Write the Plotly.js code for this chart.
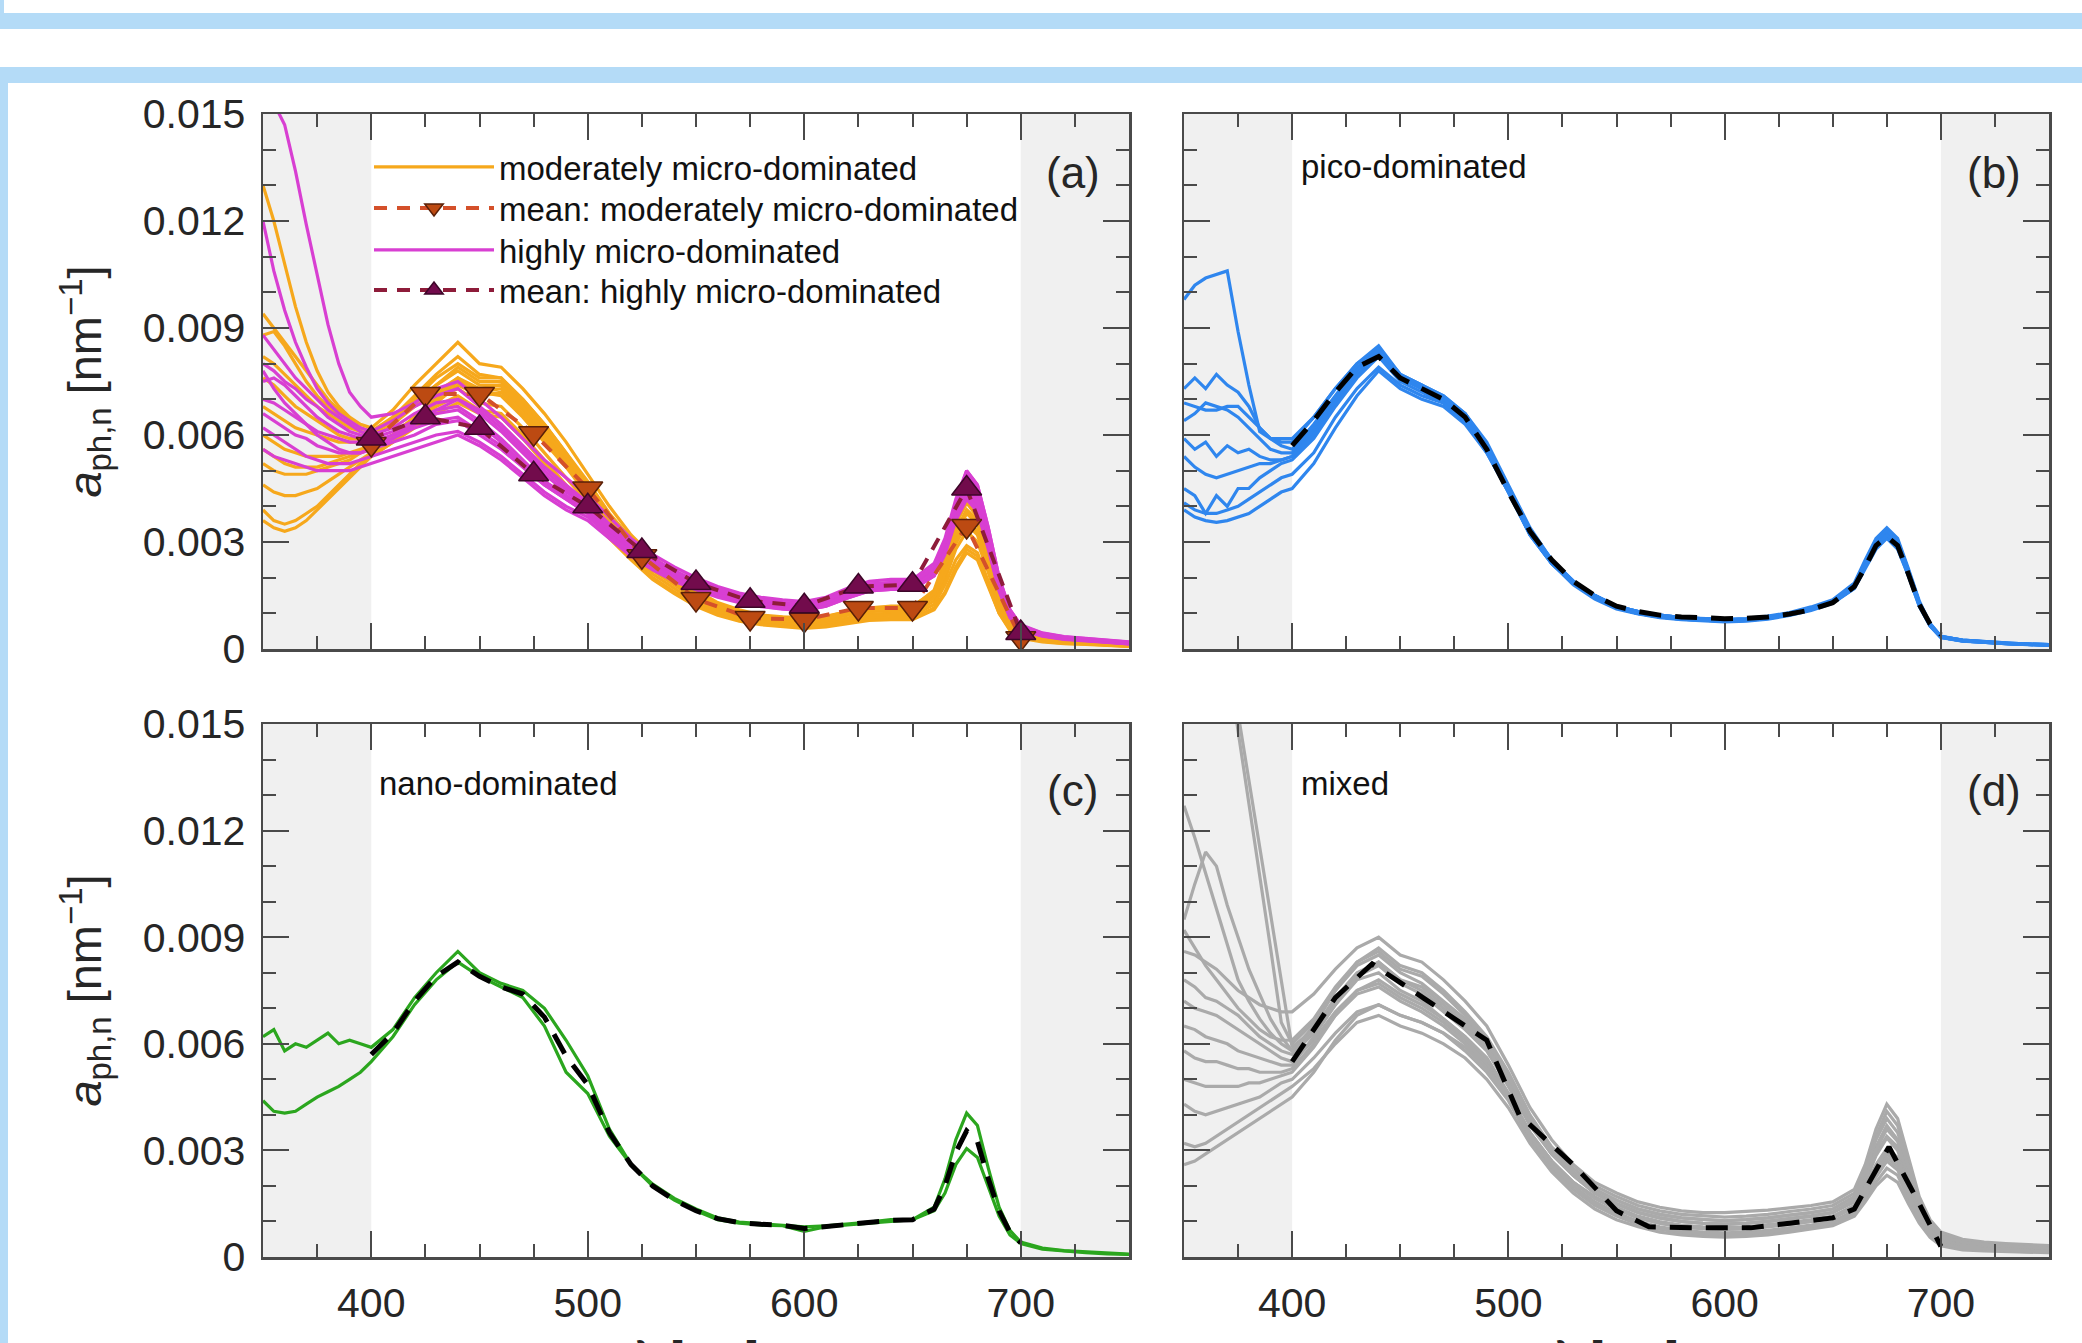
<!DOCTYPE html>
<html>
<head>
<meta charset="utf-8">
<title>Normalized phytoplankton absorption spectra</title>
<script src="https://cdn.plot.ly/plotly-3.0.1.min.js"></script>
<style>
html,body{margin:0;padding:0;width:2082px;height:1343px;overflow:hidden;background:#ffffff;}
.band{position:absolute;background:#b4dbf7;}
#chart{position:absolute;left:0;top:0;width:2082px;height:1343px;}
</style>
</head>
<body>
<div class="band" style="left:0;top:0;width:4px;height:13px;"></div>
<div class="band" style="left:0;top:13px;width:2082px;height:16px;"></div>
<div class="band" style="left:0;top:67px;width:2082px;height:16px;"></div>
<div class="band" style="left:0;top:67px;width:8px;height:1276px;"></div>
<div id="chart"></div>
<script>
// ---------------- DATA (values in units of 1e-3 nm^-1) ----------------
const UNIT = 1e-3;
const wavelength = [350,355,360,365,370,375,380,385,390,395,400,410,420,430,440,450,460,470,480,490,500,510,520,530,540,550,560,570,580,590,600,610,620,630,640,650,660,665,670,675,680,685,690,695,700,710,720,730,740,750];
const meanWavelength = [400,410,420,430,440,450,460,470,480,490,500,510,520,530,540,550,560,570,580,590,600,610,620,630,640,650,660,665,670,675,680,685,690,695,700];
const meanWavelengthA = [400,425,450,475,500,525,550,575,600,625,650,675,700];
const meanWavelengthD = [400,420,437,460,490,505,530,550,565,590,612,630,650,660,676,690,700];

// (a) moderately micro-dominated
const mod01 = [13.0,12.0,10.8,9.6,8.6,7.8,7.2,6.8,6.5,6.3,6.2, 6.7,7.4,8.0,8.6,8.0,7.9,7.3,6.6,5.8,4.9,4.0,3.2,2.6,2.1,1.65,1.3,1.1,0.95,0.9,0.88,0.92,1.05,1.15,1.2,1.2, 1.6,2.3,3.3,3.9,3.6,2.6,1.45,0.8,0.48, 0.32,0.25,0.22,0.17,0.12];
const mod02 = [9.4,9.0,8.6,8.2,7.8,7.4,7.0,6.7,6.4,6.2,6.1, 6.5,7.1,7.7,8.2,7.7,7.6,7.0,6.3,5.5,4.7,3.8,3.1,2.5,2.0,1.55,1.25,1.02,0.9,0.85,0.82,0.86,1.0,1.1,1.12,1.12, 1.5,2.2,3.1,3.6,3.3,2.4,1.35,0.72,0.44, 0.3,0.23,0.2,0.16,0.11];
const mod03 = [8.8,8.9,8.5,8.0,7.5,7.1,6.8,6.5,6.3,6.1,6.0, 6.4,6.9,7.4,7.8,7.4,7.4,6.8,6.1,5.4,4.6,3.7,3.0,2.4,1.9,1.5,1.2,1.0,0.88,0.82,0.8,0.84,0.98,1.08,1.1,1.1, 1.5,2.2,3.2,3.8,3.5,2.5,1.4,0.75,0.45, 0.3,0.22,0.2,0.15,0.11];
const mod04 = [7.6,7.4,7.1,6.8,6.6,6.4,6.2,6.0,5.9,5.9,5.9, 6.3,6.8,7.2,7.6,7.2,7.1,6.5,5.8,5.1,4.3,3.5,2.8,2.2,1.8,1.4,1.1,0.9,0.8,0.75,0.72,0.76,0.88,0.98,1.0,1.0, 1.35,1.95,2.8,3.3,3.0,2.15,1.2,0.65,0.38, 0.26,0.2,0.18,0.13,0.09];
const mod05 = [6.8,6.6,6.4,6.2,6.1,6.0,5.9,5.8,5.8,5.8,5.9, 6.3,6.9,7.4,7.9,7.5,7.5,6.9,6.2,5.4,4.6,3.7,3.0,2.4,1.95,1.5,1.2,1.0,0.9,0.85,0.82,0.86,1.0,1.12,1.15,1.15, 1.6,2.4,3.5,4.1,3.7,2.7,1.5,0.8,0.48, 0.32,0.25,0.22,0.17,0.12];
const mod06 = [6.0,5.8,5.6,5.5,5.4,5.4,5.4,5.4,5.5,5.6,5.7, 6.0,6.5,7.0,7.3,6.9,6.8,6.2,5.5,4.8,4.1,3.3,2.7,2.1,1.7,1.3,1.05,0.85,0.75,0.7,0.66,0.7,0.82,0.92,0.95,0.95, 1.25,1.8,2.5,2.9,2.7,1.9,1.1,0.6,0.35, 0.24,0.18,0.16,0.12,0.08];
const mod07 = [5.2,5.0,4.9,4.9,4.9,5.0,5.1,5.2,5.3,5.5,5.6, 6.0,6.5,7.0,7.5,7.2,7.3,6.7,6.0,5.3,4.5,3.7,3.0,2.4,1.95,1.55,1.25,1.05,0.92,0.88,0.86,0.9,1.05,1.16,1.18,1.18, 1.65,2.5,3.6,4.2,3.8,2.8,1.6,0.85,0.5, 0.34,0.26,0.23,0.18,0.12];
const mod08 = [4.6,4.4,4.3,4.3,4.4,4.5,4.7,4.9,5.1,5.3,5.5, 5.9,6.4,6.8,7.1,6.7,6.6,6.0,5.3,4.6,3.9,3.2,2.6,2.0,1.6,1.25,1.0,0.8,0.7,0.65,0.6,0.65,0.75,0.85,0.88,0.88, 1.15,1.6,2.3,2.8,2.6,1.8,1.0,0.55,0.32, 0.22,0.16,0.14,0.1,0.07];
const mod09 = [3.9,3.6,3.5,3.6,3.8,4.0,4.3,4.6,4.9,5.2,5.4, 5.8,6.3,6.9,7.4,7.1,7.2,6.6,5.9,5.2,4.4,3.6,2.9,2.3,1.85,1.45,1.15,0.95,0.85,0.8,0.78,0.82,0.96,1.06,1.08,1.08, 1.45,2.1,3.0,3.6,3.3,2.4,1.35,0.72,0.42, 0.3,0.22,0.19,0.14,0.1];
const mod10 = [3.6,3.4,3.3,3.4,3.6,3.9,4.2,4.5,4.8,5.1,5.4, 5.8,6.2,6.6,6.9,6.6,6.5,5.9,5.2,4.5,3.8,3.1,2.5,1.95,1.55,1.2,0.95,0.78,0.68,0.62,0.58,0.62,0.72,0.8,0.82,0.82, 1.1,1.55,2.2,2.7,2.5,1.75,1.0,0.52,0.3, 0.2,0.15,0.13,0.1,0.07];
const mod11 = [8.2,8.0,7.7,7.4,7.1,6.8,6.6,6.4,6.2,6.1,6.0, 6.5,7.0,7.6,8.0,7.6,7.6,7.0,6.3,5.5,4.6,3.7,3.0,2.4,1.9,1.5,1.2,1.0,0.86,0.8,0.78,0.82,0.95,1.05,1.08,1.08, 1.45,2.1,2.95,3.5,3.2,2.3,1.3,0.7,0.42, 0.28,0.21,0.19,0.14,0.1];
const mod12 = [5.6,5.4,5.2,5.1,5.1,5.1,5.2,5.3,5.4,5.5,5.7, 6.0,6.5,7.1,7.6,7.3,7.4,6.8,6.1,5.4,4.6,3.7,3.0,2.4,1.9,1.5,1.2,1.0,0.9,0.85,0.82,0.86,1.0,1.1,1.12,1.12, 1.55,2.3,3.3,3.9,3.6,2.6,1.45,0.78,0.46, 0.3,0.23,0.2,0.15,0.1];

// (a) highly micro-dominated
const high01 = [15.8,15.3,14.7,13.4,11.9,10.5,9.1,8.0,7.2,6.8,6.5, 6.6,6.9,7.3,7.5,7.0,6.5,5.9,5.3,4.8,4.3,3.7,3.1,2.65,2.3,2.0,1.75,1.57,1.45,1.38,1.33,1.45,1.7,1.9,1.95,1.95, 2.4,3.1,4.2,5.0,4.6,3.4,2.0,1.1,0.68, 0.45,0.35,0.3,0.25,0.2];
const high02 = [12.0,10.6,9.5,8.6,7.9,7.3,6.9,6.6,6.4,6.2,6.1, 6.4,6.8,7.1,7.3,6.8,6.3,5.7,5.1,4.6,4.1,3.5,3.0,2.55,2.2,1.9,1.68,1.5,1.38,1.3,1.25,1.38,1.62,1.82,1.86,1.86, 2.3,3.0,4.1,4.9,4.5,3.3,1.9,1.05,0.64, 0.42,0.33,0.28,0.23,0.18];
const high03 = [8.8,8.4,8.0,7.6,7.3,7.0,6.7,6.5,6.3,6.1,6.0, 6.2,6.6,6.9,7.0,6.6,6.1,5.5,4.9,4.4,4.0,3.4,2.9,2.5,2.15,1.87,1.63,1.45,1.33,1.25,1.2,1.33,1.57,1.77,1.8,1.8, 2.2,2.9,3.9,4.6,4.2,3.1,1.8,1.0,0.62, 0.41,0.31,0.27,0.22,0.17];
const high04 = [8.0,7.8,7.5,7.3,7.0,6.8,6.5,6.3,6.1,6.0,5.9, 6.1,6.4,6.7,6.8,6.4,5.9,5.3,4.7,4.3,3.9,3.3,2.8,2.4,2.05,1.8,1.57,1.4,1.28,1.2,1.16,1.28,1.52,1.72,1.76,1.76, 2.15,2.8,3.8,4.4,4.0,2.95,1.72,0.95,0.58, 0.39,0.3,0.25,0.2,0.16];
const high05 = [7.5,7.6,7.4,7.1,6.8,6.5,6.3,6.1,6.0,5.9,5.8, 6.0,6.3,6.6,6.7,6.3,5.8,5.2,4.7,4.3,3.9,3.3,2.85,2.45,2.1,1.84,1.6,1.43,1.3,1.23,1.19,1.31,1.55,1.75,1.8,1.8, 2.2,2.9,4.0,4.7,4.3,3.15,1.85,1.0,0.62, 0.41,0.31,0.26,0.21,0.17];
const high06 = [7.0,6.9,6.7,6.5,6.3,6.1,6.0,5.9,5.8,5.8,5.8, 5.9,6.2,6.4,6.5,6.1,5.7,5.1,4.6,4.2,3.8,3.2,2.75,2.35,2.0,1.75,1.52,1.36,1.24,1.16,1.12,1.24,1.48,1.68,1.72,1.72, 2.1,2.75,3.7,4.3,3.9,2.85,1.65,0.9,0.55, 0.37,0.28,0.24,0.19,0.15];
const high07 = [6.6,6.4,6.2,6.0,5.9,5.7,5.6,5.5,5.5,5.5,5.6, 5.8,6.0,6.3,6.4,6.0,5.6,5.1,4.6,4.2,3.8,3.2,2.7,2.3,1.95,1.7,1.48,1.32,1.2,1.13,1.09,1.2,1.43,1.63,1.67,1.67, 2.05,2.65,3.6,4.2,3.85,2.8,1.62,0.88,0.53, 0.36,0.27,0.23,0.18,0.14];
const high08 = [6.2,6.0,5.8,5.6,5.4,5.3,5.2,5.2,5.2,5.3,5.4, 5.6,5.8,6.0,6.1,5.8,5.4,4.9,4.4,4.0,3.7,3.2,2.7,2.3,1.98,1.74,1.52,1.36,1.25,1.18,1.14,1.26,1.5,1.7,1.74,1.74, 2.15,2.8,3.8,4.5,4.1,3.0,1.75,0.95,0.57, 0.39,0.29,0.25,0.2,0.15];
const high09 = [5.6,5.4,5.3,5.2,5.1,5.0,5.0,5.0,5.0,5.1,5.2, 5.4,5.6,5.8,6.0,5.7,5.3,4.8,4.3,3.9,3.6,3.1,2.6,2.22,1.9,1.66,1.45,1.3,1.19,1.12,1.08,1.2,1.43,1.63,1.67,1.67, 2.05,2.7,3.65,4.3,3.95,2.9,1.68,0.9,0.54, 0.37,0.28,0.24,0.19,0.14];
const high10 = [7.8,7.3,6.9,6.6,6.3,6.0,5.8,5.6,5.5,5.5,5.6, 5.9,6.3,6.7,7.0,6.7,6.2,5.6,5.0,4.5,4.0,3.4,2.9,2.5,2.15,1.9,1.67,1.5,1.38,1.3,1.26,1.38,1.62,1.82,1.86,1.86, 2.3,3.0,4.1,5.0,4.6,3.4,2.0,1.1,0.66, 0.44,0.34,0.29,0.24,0.19];

const meanModerate = [5.75,7.15,7.15,6.05,4.5,2.6,1.4,0.87,0.82,1.15,1.15,3.45,0.3];
const meanHigh     = [5.9,6.5,6.2,4.9,4.0,2.75,1.85,1.35,1.2,1.75,1.8,4.5,0.45];

// (b) pico-dominated
const pico01 = [9.8,10.2,10.4,10.5,10.6,8.9,7.4,6.1,5.9,5.9,5.9, 6.5,7.3,8.0,8.5,7.7,7.4,7.1,6.6,5.8,4.6,3.4,2.5,1.9,1.5,1.2,1.05,0.95,0.88,0.84,0.82,0.84,0.9,1.0,1.15,1.35, 1.8,2.4,3.0,3.3,3.0,2.2,1.3,0.7,0.35, 0.25,0.2,0.17,0.14,0.12];
const pico02 = [7.3,7.6,7.3,7.7,7.4,7.2,6.8,6.2,5.9,5.8,5.8, 6.5,7.3,8.0,8.4,7.7,7.4,7.0,6.6,5.7,4.5,3.3,2.5,1.9,1.5,1.2,1.05,0.95,0.88,0.85,0.83,0.85,0.92,1.02,1.18,1.38, 1.85,2.5,3.1,3.4,3.1,2.25,1.35,0.72,0.36, 0.24,0.19,0.16,0.14,0.12];
const pico03 = [6.9,6.8,6.7,6.7,6.8,6.8,6.5,6.2,5.9,5.7,5.6, 6.3,7.1,7.9,8.3,7.6,7.3,7.0,6.5,5.6,4.4,3.3,2.4,1.85,1.45,1.15,1.0,0.9,0.85,0.82,0.8,0.82,0.88,0.98,1.12,1.32, 1.75,2.35,2.95,3.25,2.95,2.15,1.25,0.68,0.34, 0.24,0.19,0.16,0.13,0.11];
const pico04 = [6.4,6.6,6.9,6.8,6.7,6.5,6.2,5.9,5.6,5.5,5.5, 6.2,7.0,7.8,8.3,7.6,7.3,7.0,6.5,5.6,4.4,3.2,2.4,1.85,1.45,1.15,1.0,0.9,0.84,0.8,0.78,0.8,0.86,0.96,1.1,1.3, 1.72,2.3,2.9,3.2,2.9,2.1,1.25,0.66,0.33, 0.23,0.18,0.15,0.13,0.11];
const pico05 = [5.9,5.6,5.8,5.4,5.7,5.5,5.6,5.4,5.3,5.3,5.4, 6.1,7.0,7.8,8.4,7.7,7.4,7.1,6.6,5.7,4.5,3.3,2.5,1.9,1.5,1.2,1.05,0.95,0.88,0.84,0.82,0.84,0.9,1.0,1.15,1.35, 1.8,2.45,3.05,3.35,3.05,2.2,1.3,0.7,0.35, 0.25,0.2,0.16,0.14,0.12];
const pico06 = [5.4,5.1,4.9,4.8,4.9,5.0,5.1,5.2,5.2,5.3,5.4, 6.0,6.9,7.7,8.2,7.5,7.2,6.9,6.4,5.5,4.4,3.2,2.4,1.85,1.45,1.15,1.0,0.9,0.84,0.8,0.78,0.8,0.86,0.96,1.1,1.3, 1.7,2.3,2.85,3.15,2.85,2.05,1.2,0.65,0.33, 0.23,0.18,0.15,0.13,0.11];
const pico07 = [4.5,4.3,3.8,4.3,4.0,4.5,4.5,4.8,5.0,5.2,5.3, 5.9,6.8,7.6,8.2,7.6,7.3,7.0,6.5,5.6,4.5,3.3,2.5,1.9,1.5,1.2,1.05,0.95,0.88,0.84,0.82,0.84,0.9,1.0,1.15,1.35, 1.8,2.4,3.0,3.3,3.0,2.2,1.3,0.7,0.35, 0.25,0.2,0.17,0.14,0.12];
const pico08 = [3.9,3.7,3.6,3.55,3.6,3.7,3.8,4.0,4.2,4.4,4.5, 5.2,6.2,7.1,7.8,7.3,7.0,6.8,6.3,5.5,4.4,3.2,2.4,1.8,1.4,1.12,0.98,0.88,0.82,0.78,0.76,0.78,0.84,0.94,1.08,1.28, 1.7,2.25,2.8,3.1,2.8,2.05,1.2,0.64,0.32, 0.22,0.18,0.15,0.12,0.1];
const pico09 = [4.1,3.9,3.8,3.8,3.9,4.0,4.2,4.4,4.6,4.8,4.9, 5.5,6.5,7.3,7.9,7.4,7.1,6.9,6.4,5.6,4.5,3.3,2.4,1.85,1.45,1.15,1.0,0.9,0.84,0.8,0.78,0.8,0.86,0.96,1.1,1.3, 1.72,2.3,2.9,3.2,2.9,2.1,1.25,0.66,0.33, 0.23,0.18,0.15,0.13,0.11];
const meanPico = [5.7,6.4,7.2,7.9,8.2,7.6,7.3,7.0,6.5,5.6,4.4,3.3,2.5,1.9,1.5,1.2,1.05,0.95,0.9,0.86,0.85,0.86,0.9,0.98,1.1,1.3, 1.75,2.3,2.9,3.15,2.9,2.1,1.25,0.7,0.4];

// (c) nano-dominated
const nano01 = [6.2,6.4,5.8,6.0,5.9,6.1,6.3,6.0,6.1,6.0,5.9, 6.4,7.3,8.0,8.6,8.0,7.7,7.5,7.0,6.1,5.1,3.6,2.6,2.05,1.65,1.35,1.1,0.98,0.93,0.9,0.85,0.88,0.92,0.98,1.05,1.05, 1.4,2.2,3.3,4.05,3.7,2.5,1.4,0.75,0.42, 0.25,0.18,0.14,0.1,0.08];
const nano02 = [4.4,4.1,4.05,4.1,4.3,4.5,4.65,4.8,5.0,5.2,5.5, 6.2,7.1,7.8,8.3,7.9,7.6,7.3,6.5,5.2,4.6,3.4,2.6,2.0,1.6,1.3,1.05,0.95,0.9,0.88,0.72,0.85,0.9,0.95,1.02,1.05, 1.3,1.8,2.6,3.05,2.8,1.95,1.15,0.62,0.38, 0.22,0.16,0.12,0.09,0.07];
const meanNano = [5.7,6.3,7.2,7.9,8.3,7.9,7.6,7.4,6.75,5.65,4.85,3.5,2.6,2.0,1.6,1.3,1.08,0.97,0.92,0.89,0.8,0.86,0.91,0.96,1.03,1.05, 1.35,2.0,2.95,3.55,3.25,2.2,1.3,0.7,0.4];

// (d) mixed
const mixed01 = [28,26,23.5,20.5,17.0,14.8,12.8,10.7,8.7,6.6,6.0, 6.6,7.5,8.2,8.5,8.0,7.7,7.2,6.7,6.0,5.0,3.9,3.0,2.4,1.9,1.6,1.35,1.2,1.1,1.05,1.02,1.05,1.1,1.18,1.25,1.35, 1.7,2.3,3.1,3.7,3.3,2.4,1.5,0.9,0.55, 0.38,0.32,0.29,0.26,0.24];
const mixed02 = [30,28,25,22,19.0,15.3,13.4,11.5,9.6,7.7,5.9, 6.4,7.3,8.0,8.3,7.8,7.5,7.0,6.5,5.9,4.9,3.8,2.9,2.3,1.8,1.5,1.25,1.1,1.0,0.95,0.92,0.95,1.0,1.08,1.15,1.25, 1.6,2.15,2.9,3.4,3.1,2.2,1.4,0.85,0.5, 0.35,0.3,0.27,0.24,0.22];
const mixed03 = [12.7,11.8,10.8,9.8,8.8,7.8,7.2,6.7,6.3,6.0,5.8, 6.5,7.5,8.3,8.7,8.2,8.0,7.5,6.9,6.2,5.2,4.0,3.1,2.5,2.0,1.7,1.45,1.3,1.2,1.15,1.12,1.15,1.2,1.28,1.35,1.45, 1.8,2.5,3.4,4.1,3.7,2.7,1.6,1.0,0.62, 0.45,0.38,0.34,0.31,0.28];
const mixed04 = [9.5,10.5,11.4,11.0,9.9,9.0,8.1,7.4,6.7,6.2,5.8, 6.4,7.2,7.9,8.2,7.7,7.4,6.9,6.4,5.8,4.8,3.7,2.9,2.3,1.8,1.5,1.25,1.1,1.0,0.95,0.93,0.95,1.0,1.07,1.15,1.25, 1.55,2.1,2.85,3.35,3.0,2.2,1.35,0.82,0.5, 0.36,0.3,0.27,0.25,0.22];
const mixed05 = [8.6,8.5,8.3,8.1,7.8,7.5,7.3,7.1,7.0,6.9,6.9, 7.4,8.1,8.7,9.0,8.5,8.3,7.8,7.2,6.5,5.4,4.2,3.3,2.6,2.1,1.8,1.55,1.4,1.3,1.25,1.25,1.28,1.32,1.38,1.45,1.55, 1.9,2.6,3.6,4.3,3.9,2.8,1.7,1.05,0.7, 0.5,0.42,0.38,0.35,0.32];
const mixed06 = [7.8,7.6,7.3,7.2,7.0,6.8,6.5,6.2,6.0,5.8,5.7, 6.3,7.1,7.8,8.0,7.5,7.2,6.7,6.2,5.6,4.6,3.5,2.7,2.1,1.7,1.4,1.15,1.0,0.9,0.85,0.83,0.85,0.9,0.97,1.05,1.15, 1.45,1.95,2.6,3.05,2.8,2.0,1.25,0.75,0.45, 0.32,0.28,0.25,0.22,0.2];
const mixed07 = [7.2,7.0,6.9,6.8,6.6,6.4,6.2,6.0,5.8,5.6,5.5, 6.1,6.9,7.5,7.7,7.3,7.0,6.6,6.1,5.5,4.6,3.5,2.7,2.1,1.65,1.35,1.1,0.95,0.85,0.8,0.78,0.8,0.85,0.92,1.0,1.1, 1.4,1.85,2.45,2.9,2.65,1.9,1.2,0.7,0.42, 0.3,0.26,0.23,0.21,0.19];
const mixed08 = [6.5,6.4,6.2,6.1,6.0,5.8,5.7,5.6,5.5,5.4,5.4, 6.2,7.1,7.9,8.3,7.8,7.6,7.1,6.6,5.9,4.9,3.8,2.9,2.3,1.8,1.5,1.25,1.1,1.0,0.95,0.92,0.95,1.0,1.08,1.15,1.25, 1.6,2.2,3.0,3.6,3.25,2.35,1.45,0.88,0.52, 0.36,0.3,0.27,0.24,0.22];
const mixed09 = [5.8,5.6,5.5,5.5,5.4,5.3,5.3,5.2,5.2,5.2,5.3, 6.0,6.8,7.4,7.6,7.2,6.9,6.5,6.0,5.4,4.5,3.4,2.6,2.0,1.55,1.25,1.0,0.85,0.75,0.7,0.68,0.7,0.75,0.82,0.9,1.0, 1.3,1.75,2.35,2.8,2.55,1.85,1.15,0.68,0.4, 0.28,0.23,0.2,0.18,0.16];
const mixed10 = [5.0,4.9,4.8,4.8,4.8,4.8,4.9,4.9,5.0,5.1,5.2, 5.9,6.8,7.5,7.8,7.4,7.1,6.7,6.2,5.6,4.6,3.5,2.7,2.1,1.65,1.35,1.1,0.95,0.85,0.8,0.78,0.8,0.85,0.92,1.0,1.1, 1.4,1.9,2.55,3.0,2.75,2.0,1.25,0.75,0.45, 0.32,0.27,0.24,0.22,0.2];
const mixed11 = [4.3,4.1,4.0,4.1,4.2,4.3,4.4,4.5,4.7,4.9,5.0, 5.6,6.3,6.9,7.1,6.8,6.6,6.3,5.8,5.2,4.4,3.3,2.5,1.9,1.45,1.15,0.92,0.78,0.68,0.63,0.6,0.62,0.67,0.75,0.83,0.93, 1.2,1.6,2.1,2.5,2.3,1.65,1.0,0.6,0.36, 0.24,0.2,0.17,0.15,0.14];
const mixed12 = [3.2,3.1,3.2,3.4,3.6,3.8,4.0,4.2,4.4,4.6,4.8, 5.3,6.0,6.6,6.8,6.5,6.3,6.0,5.6,5.0,4.2,3.2,2.4,1.8,1.35,1.05,0.85,0.7,0.62,0.58,0.56,0.58,0.62,0.7,0.78,0.88, 1.15,1.55,2.0,2.3,2.1,1.5,0.95,0.55,0.32, 0.2,0.17,0.15,0.13,0.12];
const mixed13 = [2.6,2.7,2.9,3.1,3.3,3.5,3.7,3.9,4.1,4.3,4.5, 5.2,6.1,6.8,7.1,6.8,6.6,6.3,5.9,5.3,4.5,3.4,2.6,2.0,1.5,1.2,0.95,0.8,0.7,0.65,0.62,0.65,0.7,0.78,0.86,0.96, 1.25,1.7,2.25,2.7,2.45,1.75,1.1,0.65,0.38, 0.26,0.22,0.19,0.17,0.15];
const mixed14 = [9.2,8.7,8.2,7.8,7.4,7.0,6.7,6.4,6.2,6.1,6.1, 6.7,7.6,8.3,8.6,8.1,7.9,7.4,6.8,6.1,5.1,3.9,3.0,2.4,1.9,1.6,1.35,1.2,1.1,1.05,1.02,1.05,1.1,1.18,1.25,1.35, 1.7,2.4,3.3,3.9,3.5,2.55,1.55,0.95,0.58, 0.42,0.35,0.31,0.28,0.25];
const meanMixed = [5.5,7.3,8.25,7.3,6.1,4.0,2.6,1.3,0.85,0.82,0.82,0.95,1.1,1.35,3.1,1.5,0.3];

const moderatelyMicro = [mod01,mod02,mod03,mod04,mod05,mod06,mod07,mod08,mod09,mod10,mod11,mod12];
const highlyMicro = [high01,high02,high03,high04,high05,high06,high07,high08,high09,high10];
const picoDominated = [pico01,pico02,pico03,pico04,pico05,pico06,pico07,pico08,pico09];
const nanoDominated = [nano01,nano02];
const mixedGroup = [mixed01,mixed02,mixed03,mixed04,mixed05,mixed06,mixed07,mixed08,mixed09,mixed10,mixed11,mixed12,mixed13,mixed14];

const panelLabels = ['(a)','(b)','(c)','(d)'];
const groupLabels = ['pico-dominated','nano-dominated','mixed'];
const legendNames = ['moderately micro-dominated','mean: moderately micro-dominated','highly micro-dominated','mean: highly micro-dominated'];
const yTitle = '<i>a</i><sub>ph,n</sub> [nm<sup>\u22121</sup>]';
const xTitle = '\u03bb [nm]';

// ---------------- BUILD ----------------
const FONT = 'Liberation Sans, Arial, Helvetica, sans-serif';
const AX = '#4a4a4a';
const sc = a => a.map(v => v * UNIT);

const P = {
  a: {x: 'x',  y: 'y'},
  b: {x: 'x2', y: 'y2'},
  c: {x: 'x3', y: 'y3'},
  d: {x: 'x4', y: 'y4'}
};

function curves(list, color, p, name, legendId) {
  return list.map((c, i) => ({
    type: 'scatter', mode: 'lines', x: wavelength, y: sc(c),
    xaxis: p.x, yaxis: p.y, name: name || '', legendgroup: name || '',
    showlegend: !!legendId && i === 0, legend: legendId || 'legend',
    line: {color: color, width: 3.2}, hoverinfo: 'skip'
  }));
}

function meanLine(xs, ys, p, opts) {
  return Object.assign({
    type: 'scatter', mode: 'lines', x: xs, y: sc(ys),
    xaxis: p.x, yaxis: p.y, showlegend: false, hoverinfo: 'skip',
    line: {color: '#000000', width: 5, dash: '22px,14px'}
  }, opts || {});
}

const traces = [].concat(
  curves(moderatelyMicro, '#F6A81C', P.a, legendNames[0], 'legend'),
  curves(highlyMicro, '#D83FD2', P.a, legendNames[2], 'legend3'),
  [meanLine(meanWavelengthA, meanModerate, P.a, {
    mode: 'lines+markers', name: legendNames[1], showlegend: true, legend: 'legend2',
    line: {color: '#D4502A', width: 4, dash: '13px,10px'},
    marker: {symbol: 'triangle-down', size: 26, color: '#BC4A12', line: {color: '#5a2008', width: 1.5}}
  }),
  meanLine(meanWavelengthA, meanHigh, P.a, {
    mode: 'lines+markers', name: legendNames[3], showlegend: true, legend: 'legend4',
    line: {color: '#8E1C3A', width: 4, dash: '13px,10px'},
    marker: {symbol: 'triangle-up', size: 26, color: '#720B4C', line: {color: '#3c0628', width: 1.5}}
  })],
  curves(picoDominated, '#2F86EE', P.b),
  [meanLine(meanWavelength, meanPico, P.b)],
  curves(nanoDominated, '#2BA61E', P.c),
  [meanLine(meanWavelength, meanNano, P.c)],
  curves(mixedGroup, '#AAAAAA', P.d),
  [meanLine(meanWavelengthD, meanMixed, P.d)]
);

const tickFont = {family: FONT, size: 41, color: '#262626'};
function xAxis(domain, anchor, labels) {
  return {
    domain: domain, anchor: anchor, range: [350, 750], tickmode: 'linear', tick0: 400, dtick: 100,
    ticks: 'inside', ticklen: 26, tickwidth: 2, tickcolor: AX,
    showline: true, linecolor: AX, linewidth: 2.5, mirror: 'ticks',
    showgrid: false, zeroline: false, showticklabels: labels, tickfont: tickFont, ticklabelstandoff: 8,
    minor: {ticks: 'inside', tick0: 350, dtick: 25, ticklen: 13, tickwidth: 2, tickcolor: AX, showgrid: false}
  };
}
function yAxis(domain, anchor, labels, title) {
  const a = {
    domain: domain, anchor: anchor, range: [0, 0.015], tickmode: 'linear', tick0: 0, dtick: 0.003,
    ticks: 'inside', ticklen: 26, tickwidth: 2, tickcolor: AX,
    showline: true, linecolor: AX, linewidth: 2.5, mirror: 'ticks',
    showgrid: false, zeroline: false, showticklabels: labels, tickfont: tickFont, ticklabelstandoff: 7,
    minor: {ticks: 'inside', tick0: 0, dtick: 0.001, ticklen: 13, tickwidth: 2, tickcolor: AX, showgrid: false}
  };
  if (title) a.title = {text: yTitle, font: {family: FONT, size: 47, color: '#262626'}, standoff: 26};
  return a;
}

const W = 2082, H = 1343;
const xL = [263 / W, 1129 / W], xR = [1184 / W, 2049 / W];
const yT = [1 - 649 / H, 1 - 114 / H], yB = [1 - 1257 / H, 1 - 724 / H];

const shapes = [];
[['x', 'y'], ['x2', 'y2'], ['x3', 'y3'], ['x4', 'y4']].forEach(([xr, yr]) => {
  [[350, 400], [700, 750]].forEach(([a, b]) => shapes.push({
    type: 'rect', xref: xr, yref: yr + ' domain', x0: a, x1: b, y0: 0, y1: 1,
    fillcolor: '#F0F0F0', line: {width: 0}, layer: 'below'
  }));
});

const labelFont = {family: FONT, size: 44, color: '#262626'};
const textFont = {family: FONT, size: 33, color: '#111111'};
const titleFont = {family: FONT, size: 46, color: '#262626'};
const annotations = [
  {xref: 'x domain', yref: 'y domain', x: 0.935, y: 0.89, text: panelLabels[0], showarrow: false, font: labelFont, xanchor: 'center', yanchor: 'middle'},
  {xref: 'x2 domain', yref: 'y2 domain', x: 0.936, y: 0.89, text: panelLabels[1], showarrow: false, font: labelFont, xanchor: 'center', yanchor: 'middle'},
  {xref: 'x3 domain', yref: 'y3 domain', x: 0.935, y: 0.876, text: panelLabels[2], showarrow: false, font: labelFont, xanchor: 'center', yanchor: 'middle'},
  {xref: 'x4 domain', yref: 'y4 domain', x: 0.936, y: 0.876, text: panelLabels[3], showarrow: false, font: labelFont, xanchor: 'center', yanchor: 'middle'},
  {xref: 'x2 domain', yref: 'y2 domain', x: 0.133, y: 0.901, text: groupLabels[0], showarrow: false, font: textFont, xanchor: 'left', yanchor: 'middle'},
  {xref: 'x3 domain', yref: 'y3 domain', x: 0.132, y: 0.889, text: groupLabels[1], showarrow: false, font: textFont, xanchor: 'left', yanchor: 'middle'},
  {xref: 'x4 domain', yref: 'y4 domain', x: 0.133, y: 0.889, text: groupLabels[2], showarrow: false, font: textFont, xanchor: 'left', yanchor: 'middle'},
  // x-axis titles sit at the bottom edge, mostly cut off as in the reference
  {xref: 'x3 domain', yref: 'paper', x: 0.5, y: 1 - 1330 / H, text: xTitle, showarrow: false, font: titleFont, xanchor: 'center', yanchor: 'top'},
  {xref: 'x4 domain', yref: 'paper', x: 0.5, y: 1 - 1330 / H, text: xTitle, showarrow: false, font: titleFont, xanchor: 'center', yanchor: 'top'}
];

const legendBase = {
  x: 369 / W, xanchor: 'left', yanchor: 'top',
  bgcolor: 'rgba(0,0,0,0)', borderwidth: 0, itemwidth: 120, tracegroupgap: 0,
  font: {family: FONT, size: 33, color: '#111111'}
};
const legendRowTop = [139, 180, 222, 262];

const layout = {
  width: W, height: H, margin: {l: 0, r: 0, t: 0, b: 0, pad: 0},
  paper_bgcolor: 'rgba(0,0,0,0)', plot_bgcolor: '#ffffff',
  font: {family: FONT, color: '#262626'},
  showlegend: true,
  legend:  Object.assign({}, legendBase, {y: 1 - legendRowTop[0] / H}),
  legend2: Object.assign({}, legendBase, {y: 1 - legendRowTop[1] / H}),
  legend3: Object.assign({}, legendBase, {y: 1 - legendRowTop[2] / H}),
  legend4: Object.assign({}, legendBase, {y: 1 - legendRowTop[3] / H}),
  xaxis: xAxis(xL, 'y', false),
  yaxis: yAxis(yT, 'x', true, true),
  xaxis2: xAxis(xR, 'y2', false),
  yaxis2: yAxis(yT, 'x2', false, false),
  xaxis3: xAxis(xL, 'y3', true),
  yaxis3: yAxis(yB, 'x3', true, true),
  xaxis4: xAxis(xR, 'y4', true),
  yaxis4: yAxis(yB, 'x4', false, false),
  shapes: shapes,
  annotations: annotations
};

Plotly.newPlot('chart', traces, layout, {staticPlot: true, displayModeBar: false});
</script>
</body>
</html>
